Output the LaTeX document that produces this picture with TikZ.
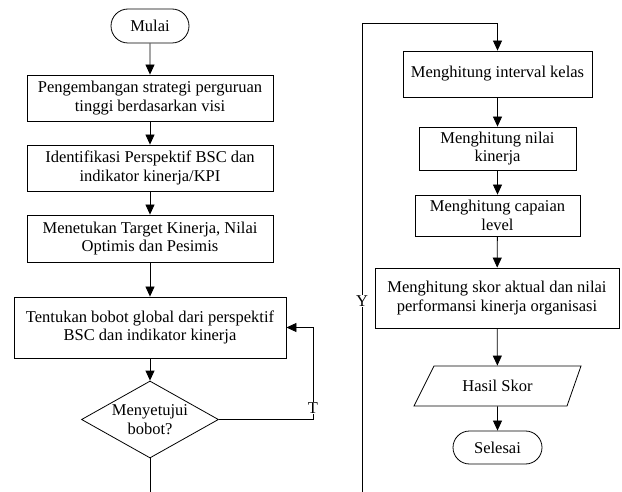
\documentclass[tikz,border=0pt]{standalone}
\usepackage{fontspec}
\setmainfont{Liberation Serif}
\usetikzlibrary{arrows.meta,shapes.geometric,shapes.misc,calc}
\begin{document}
\begin{tikzpicture}[x=1pt,y=-1pt,
  base/.style={line width=0.8pt, align=center, font=\fontsize{16.5}{18.5}\selectfont, inner sep=0pt},
  box/.style={base, draw, rectangle},
  term/.style={base, draw, rounded rectangle},
  dec/.style={base, draw, diamond, aspect=1.78},
  lbl/.style={font=\fontsize{16.5}{18.5}\selectfont, fill=white, inner sep=1pt},
  arr/.style={line width=0.8pt, -{Triangle[length=10pt,width=9pt]}},
  ln/.style={line width=0.8pt}]
\useasboundingbox (0,0) rectangle (622,492);
% left column
\node[term, minimum width=78pt, minimum height=34pt] (mulai) at (150,26) {Mulai};
\node[box, minimum width=246pt, minimum height=46pt] (b1) at (150,98) {Pengembangan strategi perguruan\\tinggi berdasarkan visi};
\node[box, minimum width=246pt, minimum height=46pt] (b2) at (150,168) {Identifikasi Perspektif BSC dan\\indikator kinerja/KPI};
\node[box, minimum width=246pt, minimum height=47pt] (b3) at (150,238.5) {Menetukan Target Kinerja, Nilai\\Optimis dan Pesimis};
\node[box, minimum width=272pt, minimum height=61pt] (b4) at (150,327.5) {Tentukan bobot global dari perspektif\\BSC dan indikator kinerja};
\node[dec, minimum width=137pt, minimum height=77pt] (dia) at (150,419.5) {Menyetujui\\bobot?};
\coordinate (botL) at (150,492);
\coordinate (tx) at (313,0);
% right column
\node[box, minimum width=189pt, minimum height=46pt] (r1) at (497.5,74) {Menghitung interval kelas};
\node[box, minimum width=157pt, minimum height=43pt] (r2) at (497.5,148.5) {Menghitung nilai\\kinerja};
\node[box, minimum width=165pt, minimum height=41pt] (r3) at (497.5,215.5) {Menghitung capaian\\level};
\node[box, minimum width=244pt, minimum height=60pt] (r4) at (497,298) {Menghitung skor aktual dan nilai\\performansi kinerja organisasi};
\node[base, minimum width=147pt, minimum height=40pt] (hasil) at (497.5,386) {Hasil Skor};
\draw[ln] ($(hasil.center)+(-83.5,20)$) -- ($(hasil.center)+(-63.5,-20)$) -- ($(hasil.center)+(83.5,-20)$) -- ($(hasil.center)+(69.5,20)$) -- cycle;
\node[term, minimum width=89pt, minimum height=33pt] (sel) at (497.5,447.5) {Selesai};
\coordinate (ybot) at (362,492);
\coordinate (ytop) at (362,23);
% connectors
\draw[arr] (mulai) -- (b1);
\draw[arr] (b1) -- (b2);
\draw[arr] (b2) -- (b3);
\draw[arr] (b3) -- (b4);
\draw[arr] (b4) -- (dia);
\draw[ln] (dia.south) -- (botL);
\draw[arr] (dia.east) -- (dia.east -| tx) -- (b4.east -| tx) -- (b4.east);
\node[lbl] (tlab) at (313,408) {T};
\draw[arr] (ybot) -- (ytop) -- (ytop -| r1.north) -- (r1.north);
\node[lbl] (ylab) at (362,301) {Y};
\draw[arr] (r1) -- (r2);
\draw[arr] (r2) -- (r3);
\draw[arr] (r3) -- (r4);
\draw[arr] (r4) -- (hasil);
\draw[arr] (hasil) -- (sel);
\end{tikzpicture}
\end{document}
